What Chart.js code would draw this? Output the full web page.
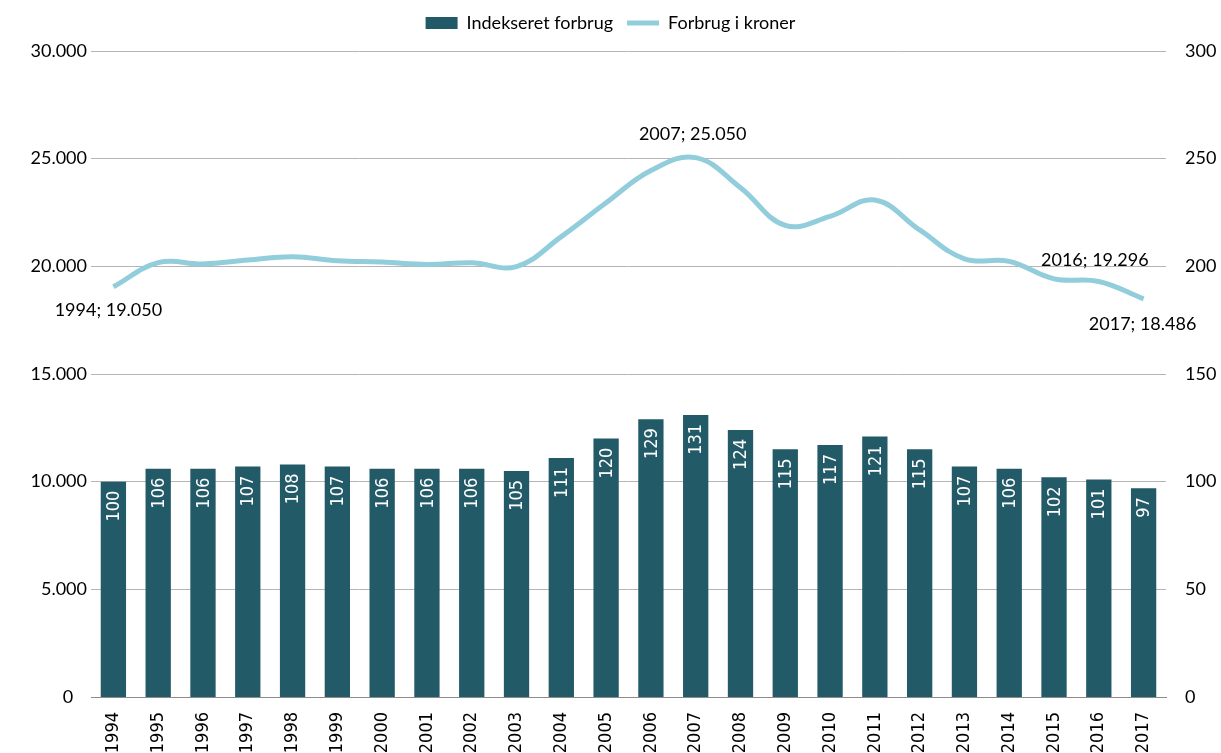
<!DOCTYPE html>
<html>
<head>
<meta charset="utf-8">
<script src="https://cdn.jsdelivr.net/npm/chart.js@4.4.1/dist/chart.umd.min.js"></script>
<style>
html,body{margin:0;padding:0;background:#fff;}
#wrap{width:1221px;height:753px;position:relative;}
</style>
</head>
<body>
<div id="wrap"><canvas id="c" width="1221" height="753"></canvas></div>
<script>
// ---- data ----
const years = ['1994','1995','1996','1997','1998','1999','2000','2001','2002','2003','2004','2005','2006','2007','2008','2009','2010','2011','2012','2013','2014','2015','2016','2017'];
const indexValues = [100,106,106,107,108,107,106,106,106,105,111,120,129,131,124,115,117,121,115,107,106,102,101,97];
const kronerValues = [19050,20170,20110,20290,20450,20260,20200,20090,20170,19990,21380,22950,24450,25050,23650,21900,22320,23080,21690,20350,20230,19420,19296,18486];
const annotatedYears = ['1994','2007','2016','2017'];
const seriesNames = ['Indekseret forbrug','Forbrug i kroner'];

const BAR_COLOR = '#235a67';
const LINE_COLOR = '#92cddc';
const TXT = "Lato, 'Open Sans', sans-serif";
const COND = "'DejaVu Sans Condensed', 'DejaVu Sans', sans-serif";

function fmtThousands(v){
  const s = Math.round(v).toString();
  return s.replace(/\B(?=(\d{3})+(?!\d))/g, '.');
}

// label offsets (style only)
const annotOffsets = {
  '1994': {dx:-5, dy:23},
  '2007': {dx:-3, dy:-23},
  '2016': {dx:-4, dy:-21},
  '2017': {dx:-1, dy:25}
};

const barLabelPlugin = {
  id:'barLabels',
  afterDatasetsDraw(chart){
    const ctx = chart.ctx;
    const meta = chart.getDatasetMeta(0);
    ctx.save();
    ctx.fillStyle = '#ffffff';
    ctx.font = "18px " + COND;
    ctx.textAlign = 'right';
    ctx.textBaseline = 'middle';
    meta.data.forEach((bar, i) => {
      ctx.save();
      ctx.translate(bar.x, bar.y + 9);
      ctx.rotate(-Math.PI/2);
      ctx.fillText(String(indexValues[i]), 0, 1);
      ctx.restore();
    });
    ctx.restore();

    const lmeta = chart.getDatasetMeta(1);
    ctx.save();
    ctx.fillStyle = '#000000';
    ctx.font = "18px " + TXT;
    ctx.textAlign = 'center';
    ctx.textBaseline = 'middle';
    annotatedYears.forEach(y => {
      const i = years.indexOf(y);
      const p = lmeta.data[i];
      const o = annotOffsets[y];
      ctx.fillText(y + '; ' + fmtThousands(kronerValues[i]), p.x + o.dx, p.y + o.dy);
    });
    ctx.restore();
  }
};

const legendHeightPlugin = {
  id:'legendHeight',
  beforeInit(chart){
    const lg = chart.legend;
    if (!lg) return;
    const orig = lg.fit;
    lg.fit = function(){ orig.call(this); this.height = 51; };
  }
};

new Chart(document.getElementById('c'), {
  data: {
    labels: years,
    datasets: [
      {
        type:'bar',
        label: seriesNames[0],
        data: indexValues,
        yAxisID:'yR',
        backgroundColor: BAR_COLOR,
        borderWidth: 0,
        barPercentage: 0.565,
        categoryPercentage: 1.0,
        pointStyle:'rect',
        order: 2
      },
      {
        type:'line',
        label: seriesNames[1],
        data: kronerValues,
        yAxisID:'yL',
        borderColor: LINE_COLOR,
        backgroundColor: LINE_COLOR,
        borderWidth: 5,
        pointRadius: 0,
        pointStyle:'line',
        tension: 0.4,
        fill:false,
        order: 1
      }
    ]
  },
  options: {
    responsive:false,
    animation:false,
    devicePixelRatio:1,
    layout:{padding:{top:0,left:0,right:0,bottom:0}},
    plugins:{
      legend:{
        position:'top',
        labels:{
          font:{family:TXT, size:18, lineHeight:1.0},
          color:'#000',
          usePointStyle:true,
          pointStyleWidth:32,
          boxHeight:12,
          padding:14,
          sort:(a,b)=>a.datasetIndex-b.datasetIndex
        }
      },
      tooltip:{enabled:false}
    },
    scales:{
      x:{
        grid:{display:false, drawTicks:false},
        border:{display:true, color:'#8c8c8c', width:1},
        ticks:{
          font:{family:COND, size:18},
          color:'#000',
          minRotation:90, maxRotation:90,
          padding:15,
          autoSkip:false
        },
        afterFit(s){ s.height = 56; }
      },
      yL:{
        position:'left',
        min:0, max:30000,
        grid:{color:'#b5b5b5', lineWidth:1, drawTicks:false},
        border:{display:false},
        ticks:{
          stepSize:5000,
          font:{family:TXT, size:18},
          color:'#000',
          padding:4,
          callback:(v)=> v===0 ? '0   ' : fmtThousands(v)
        },
        afterFit(s){ s.width = 91; }
      },
      yR:{
        position:'right',
        min:0, max:300,
        grid:{display:false, drawTicks:false},
        border:{display:false},
        ticks:{
          stepSize:50,
          font:{family:TXT, size:18},
          color:'#000',
          padding:19
        },
        afterFit(s){ s.width = 55; }
      }
    }
  },
  plugins:[legendHeightPlugin, barLabelPlugin]
});
</script>
</body>
</html>
